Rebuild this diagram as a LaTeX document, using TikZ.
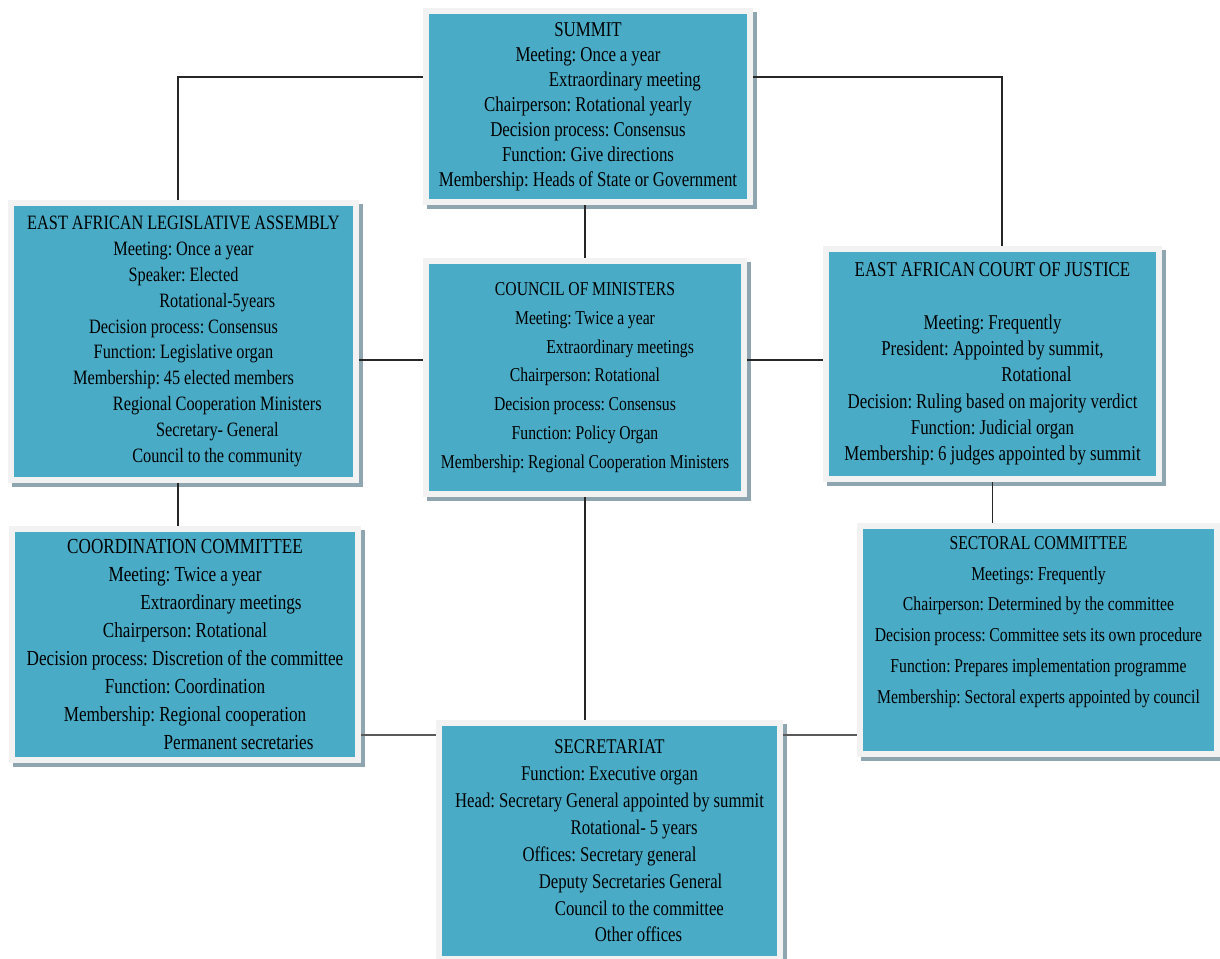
\documentclass[tikz,border=0pt]{standalone}
\usepackage{fontspec}
\newfontfamily\organfont{Liberation Serif}[FakeStretch=0.8, WordSpace=0.95]
\usepackage{tikz}
\usetikzlibrary{shadows}
\frenchspacing

\definecolor{organteal}{RGB}{74,171,198}
\definecolor{organframe}{RGB}{242,242,242}
\definecolor{organshadow}{RGB}{143,166,176}

\tikzset{
  organ/.style={draw=organframe, line width=0.12cm, fill=organteal, inner sep=0pt, align=center, text=black,
    drop shadow={shadow xshift=0.08cm, shadow yshift=-0.08cm, opacity=1, fill=organshadow, draw=organshadow, line width=0.12cm}},
  organsize/.style 2 args={font=\organfont\frenchspacing\fontsize{#1}{#2}\selectfont},
  link/.style={draw=black!85, line width=0.7pt},
  heavylink/.style={draw=black!65, line width=1.1pt}
}

\begin{document}
\begin{tikzpicture}[x=0.02cm, y=-0.02cm]
  \useasboundingbox (0,0) rectangle (1220,959);

  % Corners of the links
  \coordinate (leftcorner) at (178,77);
  \coordinate (rightcorner) at (1002,77);
  \coordinate (midrow) at (0,360);
  \coordinate (lowrow) at (0,735);

  % The organs
  \node[organ, organsize={12}{14.2}, minimum width=6.48cm, minimum height=3.82cm] (summit) at (588,106.5)
    {SUMMIT\\ Meeting: Once a year\\ \hspace*{42pt}Extraordinary meeting\\ Chairperson: Rotational yearly\\
     Decision process: Consensus\\ Function: Give directions\\ Membership: Heads of State or Government};
  \node[organ, organsize={11.6}{14.7}, minimum width=6.9cm, minimum height=5.54cm] (eala) at (183.5,341.5)
    {EAST AFRICAN LEGISLATIVE ASSEMBLY\\ Meeting: Once a year\\ Speaker: Elected\\ \hspace*{38.5pt}Rotational-5years\\
     Decision process: Consensus\\ Function: Legislative organ\\ Membership: 45 elected members\\
     \hspace*{38.5pt}Regional Cooperation Ministers\\ \hspace*{38.5pt}Secretary- General\\ \hspace*{38.5pt}Council to the community};
  \node[organ, organsize={11.16}{16.4}, minimum width=6.36cm, minimum height=4.66cm] (council) at (585,377.5)
    {COUNCIL OF MINISTERS\\ Meeting: Twice a year\\ \hspace*{40pt}Extraordinary meetings\\ Chairperson: Rotational\\
     Decision process: Consensus\\ Function: Policy Organ\\ Membership: Regional Cooperation Ministers};
  \node[organ, organsize={12}{15}, minimum width=6.66cm, minimum height=4.6cm] (court) at (992.5,364)
    {EAST AFRICAN COURT OF JUSTICE\\[15pt] Meeting: Frequently\\ President: Appointed by summit,\\ \hspace*{50pt}Rotational\\
     Decision: Ruling based on majority verdict\\ Function: Judicial organ\\ Membership: 6 judges appointed by summit};
  \node[organ, organsize={12.2}{15.9}, minimum width=6.92cm, minimum height=4.62cm] (coordination) at (185,644.5)
    {COORDINATION COMMITTEE\\ Meeting: Twice a year\\ \hspace*{41pt}Extraordinary meetings\\ Chairperson: Rotational\\
     Decision process: Discretion of the committee\\ Function: Coordination\\ Membership: Regional cooperation\\
     \hspace*{61pt}Permanent secretaries};
  \node[organ, organsize={11.16}{17.6}, minimum width=7.14cm, minimum height=4.56cm] (sectoral) at (1038.5,640)
    {SECTORAL COMMITTEE\\ Meetings: Frequently\\ Chairperson: Determined by the committee\\
     Decision process: Committee sets its own procedure\\ Function: Prepares implementation programme\\
     Membership: Sectoral experts appointed by council\\ \strut};
  \node[organ, organsize={11.9}{15.3}, minimum width=6.82cm, minimum height=4.72cm] (secretariat) at (609.5,841)
    {SECRETARIAT\\ Function: Executive organ\\ Head: Secretary General appointed by summit\\ \hspace*{28pt}Rotational- 5 years\\
     Offices: Secretary general\\ \hspace*{24pt}Deputy Secretaries General\\ \hspace*{34pt}Council to the committee\\
     \hspace*{33pt}Other offices};

  % The links
  \draw[link] (leftcorner |- eala.north) -- (leftcorner) -- (summit.west |- leftcorner);
  \draw[link] (summit.east |- rightcorner) -- (rightcorner) -- (rightcorner |- court.north);
  \draw[link] (summit.south -| council.north) -- (council.north);
  \draw[link] (eala.east |- midrow) -- (council.west |- midrow);
  \draw[link] (council.east |- midrow) -- (court.west |- midrow);
  \draw[link] (leftcorner |- eala.south) -- (leftcorner |- coordination.north);
  \draw[link] (court.south) -- (court.south |- sectoral.north);
  \draw[link] (council.south) -- (council.south |- secretariat.north);
  \draw[heavylink] (coordination.east |- lowrow) -- (secretariat.west |- lowrow);
  \draw[heavylink] (secretariat.east |- lowrow) -- (sectoral.west |- lowrow);
\end{tikzpicture}
\end{document}
